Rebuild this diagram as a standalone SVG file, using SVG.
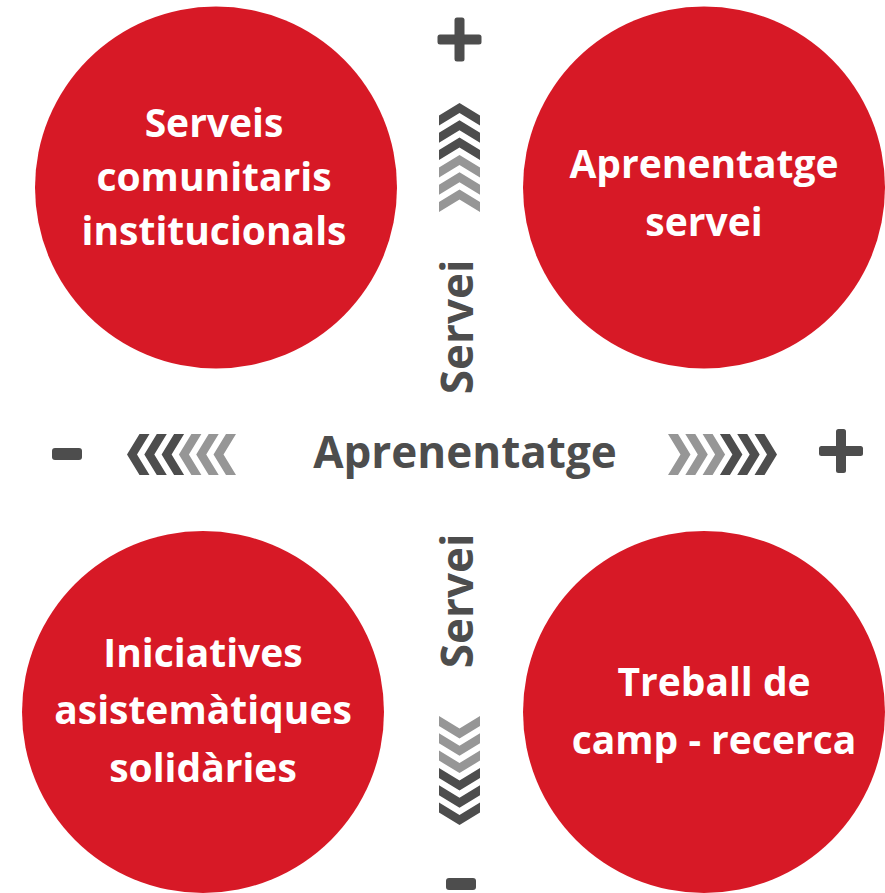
<svg xmlns="http://www.w3.org/2000/svg" xmlns:xlink="http://www.w3.org/1999/xlink" width="885" height="893" viewBox="0 0 885 893">
<style>
.node{fill:#D71926}
.nt{font-family:"Open Sans","Noto Sans",sans-serif;font-weight:700;font-size:39px;fill:#FFFFFF;text-anchor:middle}
.ax{font-family:"Open Sans","Noto Sans",sans-serif;font-weight:700;font-size:44px;fill:#4D4D4D;text-anchor:middle}
.dk{fill:#4D4D4D}
.lt{fill:#969696}
</style>
<defs>
<path id="chev" d="M0,0 L20.5,12.5 L20.5,22.5 L0,10 L-20.5,22.5 L-20.5,12.5 Z"/>
</defs>
<rect width="885" height="893" fill="#FFFFFF"/>
<g id="node-serveis-comunitaris">
<circle class="node" cx="216" cy="187.5" r="181"/>
<text class="nt" x="214" y="137">Serveis</text>
<text class="nt" x="214" y="191">comunitaris</text>
<text class="nt" x="214" y="245">institucionals</text>
</g>
<g id="node-aprenentatge-servei">
<circle class="node" cx="704" cy="187.5" r="181"/>
<text class="nt" x="704" y="178">Aprenentatge</text>
<text class="nt" x="704" y="236">servei</text>
</g>
<g id="node-iniciatives">
<circle class="node" cx="203" cy="712" r="181"/>
<text class="nt" x="203" y="667">Iniciatives</text>
<text class="nt" x="203" y="724">asistemàtiques</text>
<text class="nt" x="203" y="782">solidàries</text>
</g>
<g id="node-treball-camp">
<circle class="node" cx="704" cy="712" r="181"/>
<text class="nt" x="714" y="696">Treball de</text>
<text class="nt" x="714" y="754">camp - recerca</text>
</g>
<g id="connectors">
<rect class="dk" x="437.5" y="34.5" width="44" height="10" rx="2.5"/>
<rect class="dk" x="454.5" y="17.5" width="10" height="44" rx="2.5"/>
<rect class="dk" x="819" y="446" width="44" height="10" rx="2.5"/>
<rect class="dk" x="836" y="429" width="10" height="44" rx="2.5"/>
<rect class="dk" x="52" y="448" width="30" height="12" rx="3"/>
<rect class="dk" x="446" y="878" width="30" height="12" rx="3"/>
<use xlink:href="#chev" class="dk" transform="translate(459.5,103)"/>
<use xlink:href="#chev" class="dk" transform="translate(459.5,120.3)"/>
<use xlink:href="#chev" class="dk" transform="translate(459.5,137.6)"/>
<use xlink:href="#chev" class="lt" transform="translate(459.5,154.9)"/>
<use xlink:href="#chev" class="lt" transform="translate(459.5,172.2)"/>
<use xlink:href="#chev" class="lt" transform="translate(459.5,189.5)"/>
<use xlink:href="#chev" class="dk" transform="translate(459.5,825) rotate(180)"/>
<use xlink:href="#chev" class="dk" transform="translate(459.5,807.7) rotate(180)"/>
<use xlink:href="#chev" class="dk" transform="translate(459.5,790.4) rotate(180)"/>
<use xlink:href="#chev" class="lt" transform="translate(459.5,773.1) rotate(180)"/>
<use xlink:href="#chev" class="lt" transform="translate(459.5,755.8) rotate(180)"/>
<use xlink:href="#chev" class="lt" transform="translate(459.5,738.5) rotate(180)"/>
<use xlink:href="#chev" class="dk" transform="translate(127,454.5) rotate(-90)"/>
<use xlink:href="#chev" class="dk" transform="translate(144.3,454.5) rotate(-90)"/>
<use xlink:href="#chev" class="dk" transform="translate(161.6,454.5) rotate(-90)"/>
<use xlink:href="#chev" class="lt" transform="translate(178.9,454.5) rotate(-90)"/>
<use xlink:href="#chev" class="lt" transform="translate(196.2,454.5) rotate(-90)"/>
<use xlink:href="#chev" class="lt" transform="translate(213.5,454.5) rotate(-90)"/>
<use xlink:href="#chev" class="dk" transform="translate(777,454.5) rotate(90)"/>
<use xlink:href="#chev" class="dk" transform="translate(759.7,454.5) rotate(90)"/>
<use xlink:href="#chev" class="dk" transform="translate(742.4,454.5) rotate(90)"/>
<use xlink:href="#chev" class="lt" transform="translate(725.1,454.5) rotate(90)"/>
<use xlink:href="#chev" class="lt" transform="translate(707.8,454.5) rotate(90)"/>
<use xlink:href="#chev" class="lt" transform="translate(690.5,454.5) rotate(90)"/>
<text class="ax" x="465" y="468">Aprenentatge</text>
<text class="ax" transform="translate(473,327) rotate(-90)">Servei</text>
<text class="ax" transform="translate(473,601) rotate(-90)">Servei</text>
</g>
</svg>
